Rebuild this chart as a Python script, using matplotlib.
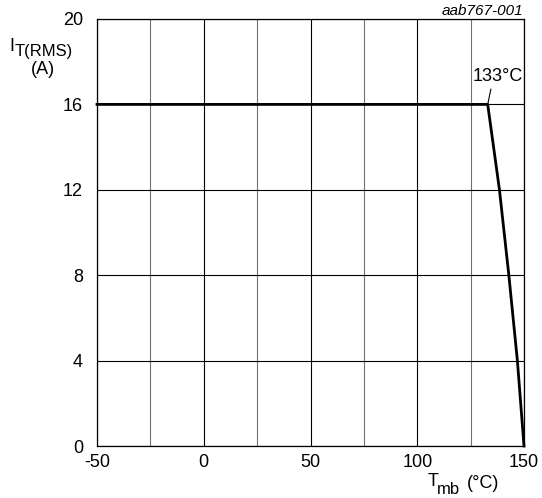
import matplotlib
matplotlib.use("Agg")
import matplotlib.pyplot as plt
import numpy as np

plt.rcParams["font.family"] = ["Liberation Sans", "DejaVu Sans"]

# derating curve: on-state current vs mounting base temperature
t_mb = [-50, 133, 138.5, 142.9, 146.9, 150]
i_rms = [16, 16, 12, 8, 4, 0]

W, H = 542, 498
fig = plt.figure(figsize=(W / 100, H / 100), dpi=100)
ax = fig.add_axes([97 / W, 1 - 446 / H, 427 / W, 427 / H])


def px_text(x, y, s, size, **kw):
    # place text by pixel position (origin top left, y = baseline)
    fig.text(x / W, 1 - y / H, s, fontsize=size, va="baseline", **kw)


ax.set_xlim(-50, 150)
ax.set_ylim(0, 20)
ax.set_xticks(np.arange(-50, 151, 50))
ax.set_xticks(np.arange(-25, 150, 50), minor=True)
ax.set_yticks(np.arange(0, 21, 4))
ax.set_xticklabels(["-50", "0", "50", "100", "150"])
ax.tick_params(which="both", length=0, labelsize=13, pad=6)
ax.tick_params(axis="y", pad=10)

ax.grid(which="major", axis="both", color="black", linewidth=0.8)
ax.grid(which="minor", axis="x", color="#707070", linewidth=0.8)
for s in ax.spines.values():
    s.set_linewidth(0.9)

ax.plot(t_mb, i_rms, color="black", linewidth=2.0, solid_joinstyle="round", clip_on=False, zorder=3)

# knee point label with short leader
ax.text(137.8, 17.3, "133°C", ha="center", va="center", fontsize=13)
ax.annotate("", xy=(133, 16), xytext=(134.5, 16.72),
            arrowprops=dict(arrowstyle="-", color="black", linewidth=0.8, shrinkA=0, shrinkB=0))

fig.text(523 / W, 1 - 11 / H, "aab767-001", ha="right", va="center", fontsize=11, style="italic")

# axis labels with large subscripts
px_text(9, 51, "I", 13)
px_text(15, 56, "T(RMS)", 12)
px_text(43, 74, "(A)", 13, ha="center")
px_text(428, 486, "T", 13)
px_text(437, 494, "mb", 12)
px_text(467, 488, "(°C)", 13)

fig.savefig("out.png", dpi=100)
